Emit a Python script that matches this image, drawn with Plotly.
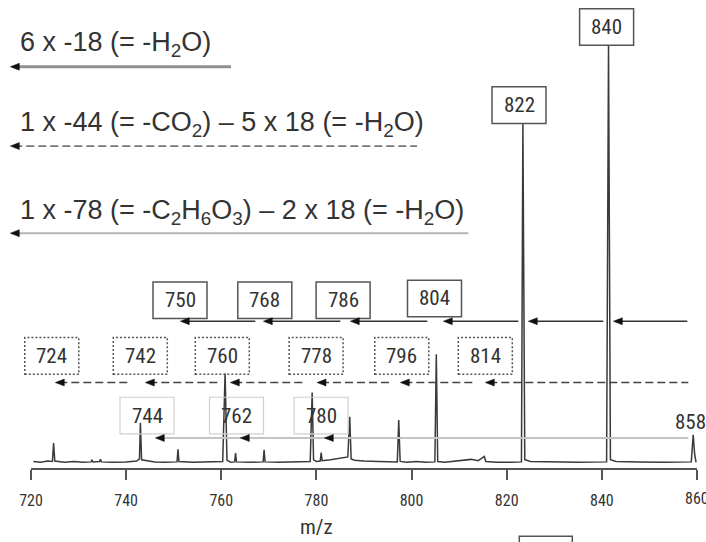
import plotly.graph_objects as go

# spectrum trace: m/z and relative intensity (% of the 841 peak)
spec_mz = [720.5, 722.0, 723.5, 724.5, 724.75, 725.0, 727.0, 729.0, 731.0, 732.6, 732.8, 733.0,
           734.4, 734.6, 734.8, 737.0, 740.0, 742.2, 742.8, 743.0, 743.25, 744.5, 746.0, 748.0,
           750.7, 750.9, 751.1, 754.0, 757.0, 760.3, 760.8, 761.2, 762.0, 762.8, 763.0, 763.2,
           766.0, 768.8, 769.0, 769.2, 772.0, 776.0, 778.7, 779.1, 779.4, 780.0, 780.8, 781.0,
           781.2, 783.0, 785.0, 786.6, 787.0, 787.3, 788.0, 790.0, 793.0, 797.0, 797.3, 797.6,
           799.0, 801.0, 803.0, 804.9, 805.2, 805.5, 807.0, 809.0, 811.0, 812.5, 814.0, 815.3,
           815.6, 818.0, 821.0, 823.1, 823.4, 823.8, 825.0, 830.0, 835.0, 841.0, 841.4, 841.8,
           843.0, 848.0, 853.0, 858.8, 859.2, 859.5, 859.8]
spec_int = [0.2, 0.0, 0.3, 0.2, 4.6, 0.3, 0.0, 0.2, 0.0, 0.1, 0.6, 0.1,
            0.2, 0.7, 0.1, 0.0, 0.1, 0.3, 0.8, 9.5, 0.6, 0.3, 0.1, 0.0,
            0.1, 3.1, 0.2, 0.0, 0.1, 0.2, 21.3, 0.5, 0.0, 0.1, 2.2, 0.1,
            0.0, 0.1, 3.0, 0.1, 0.0, 0.1, 0.2, 16.7, 0.6, 0.2, 0.3, 2.3,
            0.4, 0.6, 1.0, 1.3, 10.9, 0.8, 0.5, 0.3, 0.2, 0.1, 10.1, 0.2,
            0.0, 0.2, 0.0, 0.1, 25.9, 0.2, 0.0, 0.2, 0.5, 0.7, 0.4, 1.4,
            0.2, 0.0, 0.0, 0.1, 81.3, 0.6, 0.2, 0.1, 0.0, 0.1, 100.0, 0.6,
            0.2, 0.1, 0.0, 0.1, 6.6, 2.0, 0.0]

# fragment labels per loss series
solid_labels = ["750", "768", "786", "804", "822", "840"]
dashed_labels = ["724", "742", "760", "778", "796", "814"]
light_labels = ["744", "762", "780"]
end_label = "858"

loss_texts = [
    "6 x -18 (= -H<sub>2</sub>O)",
    "1 x -44 (= -CO<sub>2</sub>) – 5 x 18 (= -H<sub>2</sub>O)",
    "1 x -78 (= -C<sub>2</sub>H<sub>6</sub>O<sub>3</sub>) – 2 x 18 (= -H<sub>2</sub>O)",
]

tick_vals = [720, 740, 760, 780, 800, 820, 840, 860]
tick_labels = ["720", "740", "760", "780", "800", "820", "840", "860"]
x_title = "m/z"

# ---- layout geometry (window pixels) ----
W, H = 706, 542
L, R, T, B = 30.7, 9.3, 0, 74.3
PW, PH = W - L - R, H - T - B

SANS = "Liberation Sans, Arial, sans-serif"
NARROW = "Liberation Sans Narrow, Arial Narrow, Roboto Condensed, Liberation Sans, sans-serif"


def X(px):
    return (px - L) / PW


def Y(py):
    return (H - B - py) / PH


fig = go.Figure()
fig.add_trace(go.Scatter(
    x=spec_mz, y=spec_int, mode="lines",
    line=dict(color="#3a3a3a", width=1.5),
    hoverinfo="skip",
))

shapes = []
annotations = []


def hline(x0, x1, y, color, width, dash="solid"):
    shapes.append(dict(type="line", xref="paper", yref="paper",
                       x0=X(x0), x1=X(x1), y0=Y(y), y1=Y(y),
                       line=dict(color=color, width=width, dash=dash)))


def head(x, y):
    # small filled triangle pointing left
    path = (f"M {X(x)},{Y(y)} L {X(x + 9)},{Y(y - 3.5)} "
            f"L {X(x + 9)},{Y(y + 3.5)} Z")
    shapes.append(dict(type="path", xref="paper", yref="paper", path=path,
                       fillcolor="#111", line=dict(color="#111", width=0.5)))


def label(x, y, text, size=21, family=NARROW, anchor="center"):
    annotations.append(dict(xref="paper", yref="paper", x=X(x), y=Y(y), text=text,
                            showarrow=False, xanchor=anchor, yanchor="middle",
                            font=dict(family=family, size=size, color="#333")))


def box(cx, cy, text, color, dash="solid", width=1.5):
    shapes.append(dict(type="rect", xref="paper", yref="paper",
                       x0=X(cx - 27), x1=X(cx + 27), y0=Y(cy + 18.3), y1=Y(cy - 18.3),
                       line=dict(color=color, width=width, dash=dash)))
    label(cx, cy, text)


# loss descriptions at the top left
text_rows = [(44, 66.7, "#8f8f8f", 3, "solid", 230.7),
             (124, 146, "#777", 1.6, "8px,4px", 416.7),
             (211.7, 233, "#b5b5b5", 2, "solid", 468)]
for txt, (ty, ly, col, lw, dash, xend) in zip(loss_texts, text_rows):
    label(18, ty, txt, size=27, family=SANS, anchor="left")
    hline(14, xend, ly, col, lw, dash)
    head(10, ly)

# solid -18 series
solid_pos = [(179.7, 300), (264.5, 300), (342.8, 300), (434.2, 298.3), (518.7, 105), (606.3, 27)]
for lab, (cx, cy) in zip(solid_labels, solid_pos):
    box(cx, cy, lab, "#555")
solid_tips = [180, 263, 350, 443, 528, 613]
solid_tails = [255, 340, 427, 518, 603, 687]
for tip, tail in zip(solid_tips, solid_tails):
    hline(tip + 4, tail, 321, "#333", 1.4)
    head(tip, 321)

# dashed -44 / -18 series
dashed_pos = [51.5, 140, 222, 315.8, 401.5, 485]
for lab, cx in zip(dashed_labels, dashed_pos):
    box(cx, 355.7, lab, "#555", dash="2px,2px", width=1.5)
dashed_tips = [55, 145, 230, 316.7, 400, 485]
dashed_tails = [130, 220, 306, 390, 475, 688]
for tip, tail in zip(dashed_tips, dashed_tails):
    hline(tip + 4, tail, 382.3, "#444", 1.5, "8px,4px")
    head(tip, 382.3)

# light -78 / -18 series
light_pos = [146.7, 236.2, 320.8]
for lab, cx in zip(light_labels, light_pos):
    box(cx, 415.3, lab, "#cfcfcf", width=1.2)
hline(158, 688, 437.7, "#c4c4c4", 2)
for tip in [155, 240, 324]:
    head(tip, 437.7)

label(690, 422, end_label)

# last tick label sits on the window edge, drawn inside the svg so it gets cut there
label(696.7, 498.5, tick_labels[-1], size=16)

# axis title and the cut-off box at the bottom
label(316, 527, x_title)
shapes.append(dict(type="rect", xref="paper", yref="paper",
                   x0=X(519), x1=X(572), y0=Y(580), y1=Y(536),
                   line=dict(color="#555", width=1.5)))

fig.update_layout(
    width=W, height=H, autosize=False,
    margin=dict(l=L, r=R, t=T, b=B, pad=0),
    paper_bgcolor="white", plot_bgcolor="white",
    showlegend=False,
    font=dict(family=SANS, color="#333"),
    xaxis=dict(
        range=[720, 860], tickvals=tick_vals, ticktext=tick_labels[:-1] + [""],
        ticks="outside", ticklen=10,
        tickwidth=1.5, tickcolor="#555", showline=True, linecolor="#555", linewidth=1.5,
        showgrid=False, zeroline=False, fixedrange=True,
        tickfont=dict(family=NARROW, size=16, color="#333"), ticklabelstandoff=7,
    ),
    yaxis=dict(range=[-1.367, 462 / 4.17], visible=False, fixedrange=True),
    shapes=shapes,
    annotations=annotations,
)

# drop the page's default 8px body margin so the figure fills the window exactly
fig.write_html("out.html", config={"displayModeBar": False}, post_script=(
    "document.body.style.margin='0';"
    "document.documentElement.style.overflow='hidden';"
))
